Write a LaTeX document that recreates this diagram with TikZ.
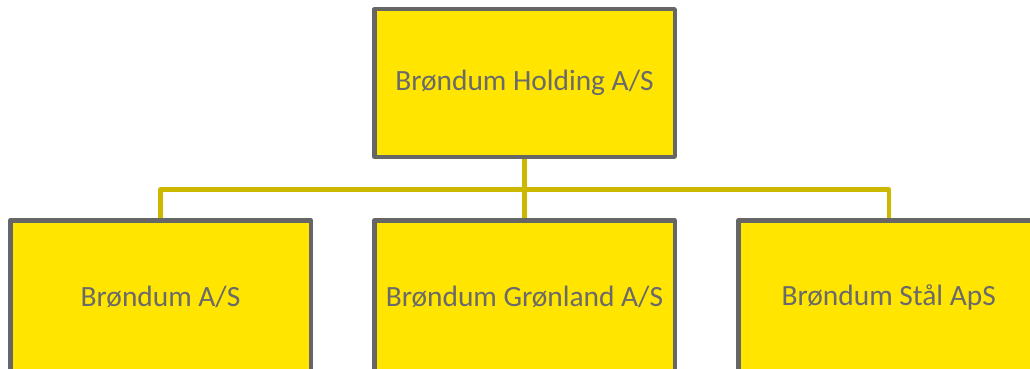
\documentclass[tikz,border=0pt]{standalone}
\usepackage{fontspec}
\setmainfont{Carlito}
\definecolor{boxfill}{HTML}{FFE500}
\definecolor{boxline}{HTML}{666666}
\definecolor{conncol}{HTML}{CDB800}
\definecolor{txtcol}{HTML}{6A6A6A}
\tikzset{
  orgbox/.style={draw=boxline, fill=boxfill, line width=4.5pt, line join=round,
    minimum width=300.5pt, minimum height=147.5pt, inner sep=0pt,
    text=txtcol, font=\fontsize{29.4}{33}\selectfont},
  lowbox/.style={orgbox, minimum height=154pt},
  conn/.style={draw=conncol, line width=4.5pt, line join=round}
}
\begin{document}
\begin{tikzpicture}[x=1pt,y=-1pt]
\useasboundingbox (0,0) rectangle (1030,369);
\clip (0,0) rectangle (1030,369);
\node[orgbox] (top) at (524.5,83) {Brøndum Holding A/S};
\node[lowbox] (b1) at (160.5,297.25) {Brøndum A/S};
\node[lowbox] (b2) at (524.5,297.25) {Brøndum Grønland A/S};
\node[lowbox] (b3) at (888.75,297.25) {Brøndum Stål ApS};
\coordinate (bus) at (524.5,189.5);
\draw[conn] (top.south) -- (bus);
\draw[conn] (b1.north) |- (bus) -| (b3.north);
\draw[conn] (bus) -- (b2.north);
\end{tikzpicture}
\end{document}
